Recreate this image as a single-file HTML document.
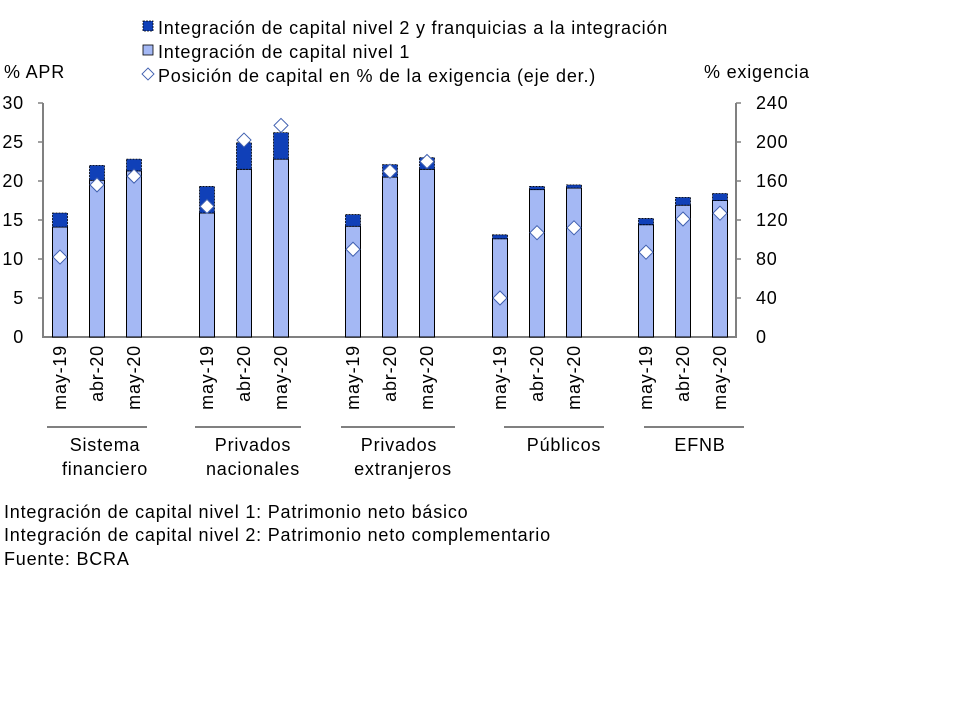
<!DOCTYPE html>
<html><head><meta charset="utf-8"><style>body{margin:0;background:#fff}svg{font-family:"Liberation Sans",sans-serif;letter-spacing:0.8px}</style></head><body>
<svg width="960" height="720" xmlns="http://www.w3.org/2000/svg">
<g font-size="18" fill="#000">
<rect x="143" y="21" width="10" height="10" fill="#1040b8" stroke="#000" stroke-dasharray="2,1" stroke-width="0.8"/>
<text x="158" y="34">Integración de capital nivel 2 y franquicias a la integración</text>
<rect x="143" y="45" width="10" height="10" fill="#a4b8f4" stroke="#000" stroke-width="0.8"/>
<text x="158" y="58">Integración de capital nivel 1</text>
<path d="M148 68 L154 74 L148 80 L142 74 Z" fill="#fff" stroke="#4060b0" stroke-width="0.9"/>
<text x="158" y="82">Posición de capital en % de la exigencia (eje der.)</text>
<text x="4" y="78">% APR</text>
<text x="704" y="78">% exigencia</text>
</g>
<g stroke="#808080" stroke-width="2" fill="none">
<line x1="43" y1="103" x2="43" y2="338"/>
<line x1="736" y1="103" x2="736" y2="338"/>
<line x1="42" y1="337" x2="737" y2="337"/>
</g>
<g stroke="#808080" stroke-width="1.5">
<line x1="38" y1="103" x2="43" y2="103"/><line x1="38" y1="142" x2="43" y2="142"/><line x1="38" y1="181" x2="43" y2="181"/><line x1="38" y1="220" x2="43" y2="220"/><line x1="38" y1="259" x2="43" y2="259"/><line x1="38" y1="298" x2="43" y2="298"/>
<line x1="736" y1="103" x2="741" y2="103"/><line x1="736" y1="142" x2="741" y2="142"/><line x1="736" y1="181" x2="741" y2="181"/><line x1="736" y1="220" x2="741" y2="220"/><line x1="736" y1="259" x2="741" y2="259"/><line x1="736" y1="298" x2="741" y2="298"/>
</g>
<g font-size="18" text-anchor="end">
<text x="24" y="109">30</text><text x="24" y="148">25</text><text x="24" y="187">20</text><text x="24" y="226">15</text><text x="24" y="265">10</text><text x="24" y="304">5</text><text x="24" y="343">0</text>
</g>
<g font-size="18">
<text x="756" y="109">240</text><text x="756" y="148">200</text><text x="756" y="187">160</text><text x="756" y="226">120</text><text x="756" y="265">80</text><text x="756" y="304">40</text><text x="756" y="343">0</text>
</g>
<g id="bars"></g>
<g id="labels" font-size="18"></g>
<g stroke="#000" stroke-width="1">
<line x1="47" y1="427" x2="147" y2="427"/><line x1="195" y1="427" x2="301" y2="427"/><line x1="341" y1="427" x2="455" y2="427"/><line x1="504" y1="427" x2="604" y2="427"/><line x1="644" y1="427" x2="744" y2="427"/>
</g>
<g font-size="18" text-anchor="middle">
<text x="105" y="451">Sistema</text><text x="105" y="475">financiero</text>
<text x="253" y="451">Privados</text><text x="253" y="475">nacionales</text>
<text x="399" y="451">Privados</text><text x="403" y="475">extranjeros</text>
<text x="564" y="451">Públicos</text>
<text x="700" y="451">EFNB</text>
</g>
<g font-size="18">
<text x="4" y="518">Integración de capital nivel 1: Patrimonio neto básico</text>
<text x="4" y="541">Integración de capital nivel 2: Patrimonio neto complementario</text>
<text x="4" y="565">Fuente: BCRA</text>
</g>
<script>
var d=[[60,14.1,15.9,82],[97,20.1,22.0,156],[134,21.3,22.8,165],
[207,15.9,19.3,134],[244,21.5,24.9,202],[281,22.8,26.2,217],
[353,14.2,15.7,90],[390,20.5,22.1,170],[427,21.5,23.0,180],
[500,12.6,13.1,40],[537,18.9,19.3,107],[574,19.1,19.5,112],
[646,14.4,15.2,87],[683,16.9,17.9,121],[720,17.5,18.4,127]];
var names=["may-19","abr-20","may-20"];
var ns="http://www.w3.org/2000/svg",b=document.getElementById("bars"),l=document.getElementById("labels");
function el(t,a,p){var e=document.createElementNS(ns,t);for(var k in a)e.setAttribute(k,a[k]);p.appendChild(e);return e;}
d.forEach(function(r,i){var x=r[0]-7.5,y1=337-r[1]*7.8,y2=337-r[2]*7.8;
el("rect",{x:x,y:y1,width:15,height:337-y1,fill:"#a4b8f4",stroke:"#000","stroke-width":1},b);
el("rect",{x:x,y:y2,width:15,height:y1-y2,fill:"#1040b8",stroke:"#000","stroke-width":0.8,"stroke-dasharray":"2,1"},b);
var dy=337-r[3]*234/240;
el("path",{d:"M"+r[0]+" "+(dy-7)+" L"+(r[0]+7)+" "+dy+" L"+r[0]+" "+(dy+7)+" L"+(r[0]-7)+" "+dy+" Z",fill:"#fff",stroke:"#4060b0","stroke-width":1},b);
var t=el("text",{transform:"translate("+(r[0]+6)+",345) rotate(-90)","text-anchor":"end"},l);t.textContent=names[i%3];});
</script>
</svg>
</body></html>
